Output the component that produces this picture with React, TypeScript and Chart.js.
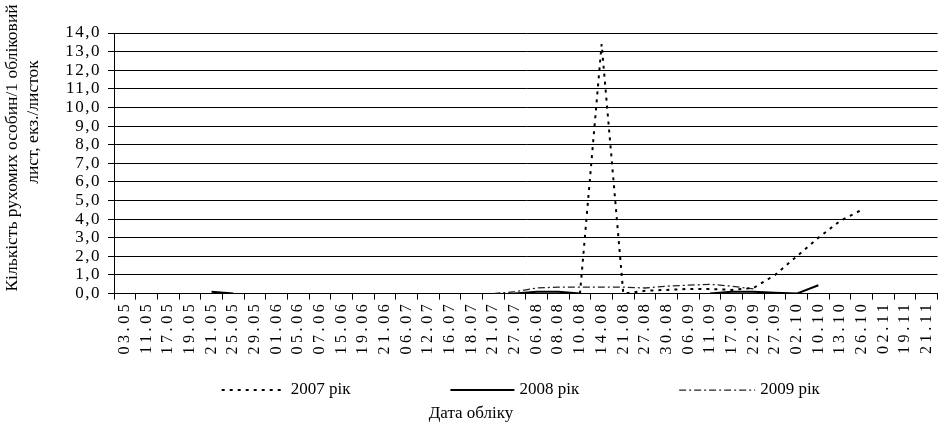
import React, { useEffect, useRef } from 'react';
import { Chart, registerables } from 'chart.js';

Chart.register(...registerables);

const DATES = [
  '03.05', '11.05', '17.05', '19.05', '21.05', '25.05', '29.05', '01.06', '05.06', '07.06',
  '15.06', '19.06', '21.06', '06.07', '12.07', '16.07', '18.07', '21.07', '27.07', '06.08',
  '08.08', '10.08', '14.08', '21.08', '27.08', '30.08', '06.09', '11.09', '17.09', '22.09',
  '27.09', '02.10', '10.10', '13.10', '26.10', '02.11', '19.11', '21.11',
];

const Y2007: (number | null)[] = [
  null, null, null, null, null, null, null, null, null, null,
  null, null, null, null, null, null, null, null, null, null,
  null, 0.0, 13.4, 0.0, 0.15, 0.2, 0.25, 0.25, 0.2, 0.3,
  1.0, 2.0, 3.0, 3.9, 4.5, null, null, null,
];

const Y2008: (number | null)[] = [
  null, null, null, null, 0.1, 0.0, null, null, null, null,
  null, null, null, null, null, null, null, null, 0.0, 0.1,
  0.1, 0.0, null, null, null, null, null, 0.0, 0.1, 0.1,
  0.05, 0.0, 0.45, null, null, null, null, null,
];

const Y2009: (number | null)[] = [
  null, null, null, null, null, null, null, null, null, null,
  null, null, null, null, null, null, null, 0.0, 0.1, 0.3,
  0.35, 0.35, 0.35, 0.35, 0.3, 0.4, 0.45, 0.5, 0.4, 0.25,
  null, null, null, null, null, null, null, null,
];

const SERIES_LABELS = ['2007 рік', '2008 рік', '2009 рік'];
const Y_TITLE = ['Кількість рухомих особин/1 обліковий', 'лист, екз./листок'];
const X_TITLE = 'Дата обліку';

const FONT = '"Liberation Serif", "Times New Roman", serif';

function spaceLabels(scale: any, spacing: string) {
  if (!scale || scale.__spaced) return;
  const orig = scale.drawLabels.bind(scale);
  scale.drawLabels = (area: any) => {
    const ctx = scale.ctx;
    ctx.save();
    (ctx as any).letterSpacing = spacing;
    orig(area);
    ctx.restore();
  };
  scale.__spaced = true;
}

const spacingPlugin = {
  id: 'labelSpacing',
  beforeDraw(chart: any) {
    spaceLabels(chart.scales.x, '3.6px');
    spaceLabels(chart.scales.y, '1.5px');
  },
};

const yTitlePlugin = {
  id: 'yTitle',
  afterDraw(chart: any) {
    const { ctx } = chart;
    const pos = [
      { x: 12, y: 148 },
      { x: 33, y: 122 },
    ];
    ctx.save();
    ctx.font = `17.5px ${FONT}`;
    ctx.fillStyle = '#000';
    ctx.textAlign = 'center';
    ctx.textBaseline = 'middle';
    Y_TITLE.forEach((line, i) => {
      ctx.save();
      ctx.translate(pos[i].x, pos[i].y);
      ctx.rotate(-Math.PI / 2);
      ctx.fillText(line, 0, 0);
      ctx.restore();
    });
    ctx.restore();
  },
};

const LEGEND_LINES = [64, 64, 76];

const legendPlugin = {
  id: 'lineLegend',
  afterDraw(chart: any) {
    const { ctx, chartArea } = chart;
    const datasets = chart.data.datasets;
    ctx.save();
    ctx.font = `17px ${FONT}`;
    const gap = 5;
    const spacing = 100;
    const widths = datasets.map((d: any, i: number) => LEGEND_LINES[i] + gap + ctx.measureText(d.label).width);
    const total = widths.reduce((a: number, b: number) => a + b, 0) + spacing * (datasets.length - 1);
    let x = (chartArea.left + chartArea.right) / 2 - total / 2 - 5;
    const y = chartArea.bottom + 96;
    datasets.forEach((d: any, i: number) => {
      ctx.beginPath();
      ctx.setLineDash(d.borderDash || []);
      ctx.lineWidth = d.borderWidth;
      ctx.strokeStyle = d.borderColor;
      ctx.moveTo(x, y + 0.5);
      ctx.lineTo(x + LEGEND_LINES[i], y + 0.5);
      ctx.stroke();
      ctx.setLineDash([]);
      ctx.fillStyle = '#000';
      ctx.textBaseline = 'middle';
      ctx.textAlign = 'left';
      ctx.fillText(d.label, x + LEGEND_LINES[i] + gap, y);
      x += widths[i] + spacing;
    });
    ctx.restore();
  },
};

export default function App() {
  const canvasRef = useRef<HTMLCanvasElement | null>(null);

  useEffect(() => {
    if (!canvasRef.current) return;
    Chart.defaults.font.family = FONT;
    const chart = new Chart(canvasRef.current, {
      type: 'line',
      data: {
        labels: DATES,
        datasets: [
          {
            label: SERIES_LABELS[0],
            data: Y2007,
            borderColor: '#000',
            borderWidth: 2,
            borderDash: [3, 5],
            pointRadius: 0,
            tension: 0,
            fill: false,
          },
          {
            label: SERIES_LABELS[1],
            data: Y2008,
            borderColor: '#000',
            borderWidth: 2,
            pointRadius: 0,
            tension: 0,
            fill: false,
          },
          {
            label: SERIES_LABELS[2],
            data: Y2009,
            borderColor: '#222',
            borderWidth: 1.3,
            borderDash: [7, 3, 2, 3],
            pointRadius: 0,
            tension: 0,
            fill: false,
          },
        ],
      },
      options: {
        animation: false,
        responsive: true,
        maintainAspectRatio: false,
        layout: { padding: { top: 33, right: 5, left: 0, bottom: 0 } },
        plugins: {
          legend: { display: false },
          tooltip: { enabled: false },
          title: {
            display: true,
            position: 'bottom',
            text: X_TITLE,
            color: '#000',
            font: { family: FONT, size: 17, weight: 'normal' },
            padding: { top: 0, bottom: 3 },
          },
        },
        scales: {
          x: {
            type: 'category',
            offset: true,
            afterFit: (s: any) => { s.height = 110; },
            grid: {
              display: true,
              offset: true,
              drawOnChartArea: false,
              drawTicks: true,
              tickLength: 6,
              color: '#000',
            },
            border: { display: true, color: '#000', width: 1 },
            ticks: {
              autoSkip: false,
              minRotation: 90,
              maxRotation: 90,
              padding: 1,
              color: '#000',
              font: { family: FONT, size: 16 },
            },
          },
          y: {
            min: 0,
            max: 14,
            afterFit: (s: any) => { s.width = 114; },
            grid: {
              color: '#000',
              drawTicks: true,
              tickLength: 6,
            },
            border: { display: true, color: '#000', width: 1 },
            ticks: {
              autoSkip: false,
              stepSize: 1,
              padding: 7,
              color: '#000',
              font: { family: FONT, size: 17 },
              callback: (v: any) => Number(v).toFixed(1).replace('.', ','),
            },
            title: { display: false },
          },
        },
      },
      plugins: [spacingPlugin, legendPlugin, yTitlePlugin],
    });
    return () => chart.destroy();
  }, []);

  return (
    <div style={{ position: 'fixed', left: 0, top: 0, width: 947, height: 427, background: '#fff' }}>
      <canvas ref={canvasRef} />
    </div>
  );
}
